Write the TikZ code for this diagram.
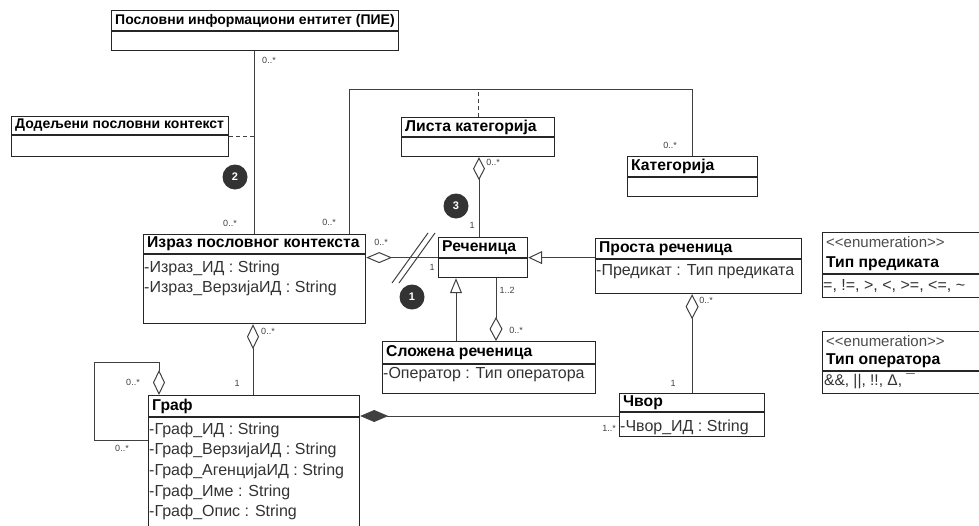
\documentclass[tikz,border=0pt]{standalone}
\usepackage{fontspec}
\setmainfont{Liberation Sans}
\usetikzlibrary{arrows.meta,calc}

% class box: name, x, y, width, height, header height, title
\newcommand\umlclass[7]{%
  \node[classbox, minimum width=#4pt, minimum height=#5pt] (#1) at (#2,#3) {};
  \draw[boxrule] ($(#1.north west)+(0,#6)$) -- ($(#1.north east)+(0,#6)$);
  \node[classtitle] (#1-title) at ($(#1.north west)+(4,#6/2)$) {#7};
}
% attribute line: node name, class, offset from top, text
\newcommand\umlattr[4]{%
  \node[attrtext] (#1) at ($(#2.north west)+(1,#3)$) {#4};
}

\begin{document}
\begin{tikzpicture}[x=1pt,y=-1pt,
  classbox/.style={draw=black!85, line width=1.2pt, fill=white, inner sep=0pt, anchor=north west},
  boxrule/.style={draw=black!85, line width=1.2pt},
  classtitle/.style={font=\bfseries\fontsize{15.7}{17}\selectfont, anchor=west, inner sep=0pt},
  attrtext/.style={font=\fontsize{16}{18}\selectfont, text=black!80, anchor=west, inner sep=0pt},
  stereo/.style={font=\fontsize{15}{17}\selectfont, text=black!70, anchor=west, inner sep=0pt},
  mult/.style={font=\fontsize{9}{10}\selectfont, text=black!75, inner sep=0pt},
  conn/.style={draw=black!75, line width=1pt},
  dashconn/.style={conn, dash pattern=on 4pt off 3pt},
  badge/.style={circle, fill=black!80, text=white, font=\bfseries\fontsize{11}{12}\selectfont, minimum size=25pt, inner sep=0pt},
]
\useasboundingbox (0,0) rectangle (979,525);

% ---- classes ----
\umlclass{pie}{111}{10}{287}{40}{21}{\fontsize{14}{16}\selectfont Пословни информациони ентитет (ПИЕ)}
\umlclass{dod}{11}{116}{217}{40}{19}{\fontsize{14}{16}\selectfont Додељени пословни контекст}
\umlclass{lista}{401}{117}{153}{39}{20}{Листа категорија}
\umlclass{kat}{627}{156}{130}{40}{21}{Категорија}
\umlclass{izraz}{143}{234}{222}{89}{20}{Израз пословног контекста}
\umlattr{izraz-a1}{izraz}{34}{-Израз\_ИД : String}
\umlattr{izraz-a2}{izraz}{54}{-Израз\_ВерзијаИД : String}
\umlclass{rec}{438}{237}{89}{40}{21}{Реченица}
\umlclass{prosta}{595}{238}{206}{55}{21}{Проста реченица}
\umlattr{prosta-a1}{prosta}{34}{-Предикат : Тип предиката}
\umlclass{slozena}{382}{341}{213}{52}{23}{Сложена реченица}
\umlattr{slozena-a1}{slozena}{34}{-Оператор : Тип оператора}
\umlclass{cvor}{619}{393}{145}{43}{19}{Чвор}
\umlattr{cvor-a1}{cvor}{34}{-Чвор\_ИД : String}
\umlclass{graf}{148}{395}{211}{150}{22}{Граф}
\umlattr{graf-a1}{graf}{35}{-Граф\_ИД : String}
\umlattr{graf-a2}{graf}{55}{-Граф\_ВерзијаИД : String}
\umlattr{graf-a3}{graf}{76}{-Граф\_АгенцијаИД : String}
\umlattr{graf-a4}{graf}{97}{-Граф\_Име : String}
\umlattr{graf-a5}{graf}{117}{-Граф\_Опис : String}

% ---- enumerations ----
\node[classbox, minimum width=170pt, minimum height=65pt] (enumP) at (822,232) {};
\draw[boxrule] ($(enumP.north west)+(0,42)$) -- ($(enumP.north east)+(0,42)$);
\node[stereo] (enumP-st) at ($(enumP.north west)+(4,10)$) {<{}<enumeration>{}>};
\node[classtitle] (enumP-title) at ($(enumP.north west)+(4,32)$) {Тип предиката};
\node[attrtext] (enumP-v) at ($(enumP.north west)+(1,54)$) {=, !=, >, <, >=, <=, \textasciitilde};

\node[classbox, minimum width=170pt, minimum height=62pt] (enumO) at (822,331) {};
\draw[boxrule] ($(enumO.north west)+(0,40)$) -- ($(enumO.north east)+(0,40)$);
\node[stereo] (enumO-st) at ($(enumO.north west)+(4,10)$) {<{}<enumeration>{}>};
\node[classtitle] (enumO-title) at ($(enumO.north west)+(4,30)$) {Тип оператора};
\node[attrtext, font=\fontsize{15.5}{17}\selectfont] (enumO-v) at ($(enumO.north west)+(2,50)$) {\&\&, ||, !!, Δ, ¯};

% ---- connectors ----
% ПИЕ -- Израз, with the assigned context attached by a dashed line
\coordinate (pieX) at ($(pie.south west)+(143,0)$);
\draw[conn] (pieX) -- (pieX |- izraz.north);
\draw[dashconn] (dod.east) -- (dod.east -| pieX);

% Израз -- Категорија, with Листа категорија as association class
\coordinate (topL) at ($(izraz.north west)+(206,-145)$);
\coordinate (topR) at (topL -| kat.north);
\draw[conn] (topL |- izraz.north) -- (topL) -- (topR) -- (kat.north);
\draw[dashconn] (lista.north) -- (lista.north |- topL);

% Листа категорија <>-- Реченица
\coordinate (lrX) at ($(lista.south west)+(78,0)$);
\draw[conn, {Diamond[open,length=23pt,width=12pt]}-] (lrX) -- (lrX |- rec.north);

% Израз <>-- Реченица, crossed by a double slash
\draw[conn, {Diamond[open,length=26pt,width=11pt]}-] (rec.west -| izraz.east) -- (rec.west);
\coordinate (cut) at (413,258);
\draw[conn] ($(cut)+(-21,25)$) -- ($(cut)+(15,-25)$);
\draw[conn] ($(cut)+(-14,25)$) -- ($(cut)+(22,-25)$);

% generalisations to Реченица
\draw[conn, -{Triangle[open,length=14pt,width=13pt]}] (rec.east -| prosta.west) -- (rec.east);
\coordinate (genX) at ($(slozena.north west)+(74,0)$);
\draw[conn, -{Triangle[open,length=15pt,width=12pt]}] (genX) -- (genX |- rec.south);

% Сложена реченица <>-- Реченица
\coordinate (aggX) at ($(slozena.north west)+(114,0)$);
\draw[conn, {Diamond[open,length=24pt,width=13pt]}-] (aggX) -- (aggX |- rec.south);

% Проста реченица <>-- Чвор
\draw[conn, {Diamond[open,length=25pt,width=13pt]}-] (cvor.north |- prosta.south) -- (cvor.north);

% Граф <*>-- Чвор
\coordinate (compY) at ($(graf.north east)+(0,21)$);
\draw[conn, {Diamond[length=28pt,width=12pt]}-] (compY) -- (compY -| cvor.west);

% Израз <>-- Граф
\coordinate (igX) at ($(izraz.south west)+(110,0)$);
\draw[conn, {Diamond[open,length=25pt,width=12pt]}-] (igX) -- (igX |- graf.north);

% Граф self association
\coordinate (loopA) at ($(graf.north west)+(0,45)$);
\coordinate (loopB) at ($(graf.north west)+(-54,-33)$);
\coordinate (loopC) at ($(graf.north west)+(11,0)$);
\draw[conn, -{Diamond[open,length=25pt,width=12pt]}] (loopA) -- (loopA -| loopB) -- (loopB) -- (loopB -| loopC) -- (loopC);

% ---- multiplicities ----
\node[mult] (m1) at (269,60) {0..*};
\node[mult] (m2) at (230,223) {0..*};
\node[mult] (m3) at (329,222) {0..*};
\node[mult] (m4) at (670,145) {0..*};
\node[mult] (m5) at (493,162) {0..*};
\node[mult] (m6) at (472,225) {1};
\node[mult] (m7) at (381,242) {0..*};
\node[mult] (m8) at (432,267) {1};
\node[mult] (m9) at (507,290) {1..2};
\node[mult] (m10) at (516,330) {0..*};
\node[mult] (m11) at (706,300) {0..*};
\node[mult] (m12) at (673,383) {1};
\node[mult] (m13) at (609,428) {1..*};
\node[mult] (m14) at (268,331) {0..*};
\node[mult] (m15) at (237,383) {1};
\node[mult] (m16) at (133,382) {0..*};
\node[mult] (m17) at (122,448) {0..*};

% ---- numbered markers ----
\node[badge] (b1) at (412,297) {1};
\node[badge] (b2) at (235,177) {2};
\node[badge] (b3) at (456,206) {3};
\end{tikzpicture}
\end{document}
